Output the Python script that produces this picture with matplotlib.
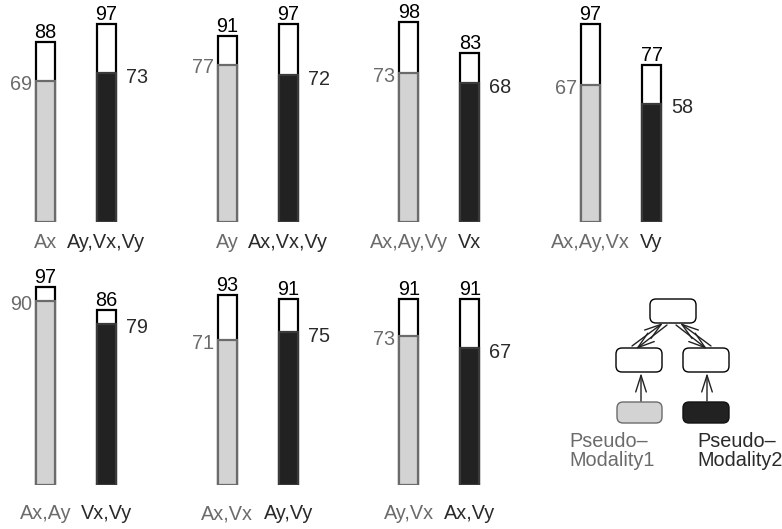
import matplotlib
matplotlib.use("Agg")
import matplotlib.pyplot as plt
from matplotlib.patches import FancyBboxPatch

plt.rcParams["font.family"] = ["Liberation Sans", "DejaVu Sans"]

# pseudo-modality 1 (gray) and 2 (black): inner score / outer score per split
inner_a = [69, 77, 73, 67, 90, 71, 73]
total_a = [88, 91, 98, 97, 97, 93, 91]
inner_b = [73, 72, 68, 58, 79, 75, 67]
total_b = [97, 97, 83, 77, 86, 91, 91]
labels_a = ["Ax", "Ay", "Ax,Ay,Vy", "Ax,Ay,Vx", "Ax,Ay", "Ax,Vx", "Ay,Vx"]
labels_b = ["Ay,Vx,Vy", "Ax,Vx,Vy", "Vx", "Vy", "Vx,Vy", "Ay,Vy", "Ax,Vy"]

GRAY_FILL, GRAY_EDGE, GRAY_TEXT = "#d3d3d3", "#6b6b6b", "#6b6b6b"
DARK_FILL, DARK_EDGE, DARK_TEXT = "#222222", "#3a3a3a", "#2a2a2a"
FS = 14.3

W, H = 782, 529
fig = plt.figure(figsize=(W / 100, H / 100), dpi=100)

# pixel-space layer for the little architecture sketch
bg = fig.add_axes([0, 0, 1, 1])
bg.set_xlim(0, W)
bg.set_ylim(H, 0)
bg.axis("off")

bw = 0.31
step_px = 61.0
panel_px = 181.7
base_y = [222, 485]
scale = 2.04  # px per score unit


def draw_panel(k, row, col):
    left = 15 + col * panel_px
    bottom = H - base_y[row]
    ax = fig.add_axes([left / W, bottom / H, 2 * step_px / W, 100 * scale / H])
    ax.set_xlim(-0.5, 1.5)
    ax.set_ylim(0, 100)
    ax.axis("off")

    for x, tot, inn, fill, edge in [(0, total_a[k], inner_a[k], GRAY_FILL, GRAY_EDGE),
                                    (1, total_b[k], inner_b[k], DARK_FILL, DARK_EDGE)]:
        ax.bar(x, tot, bw, color="white", edgecolor="black", linewidth=1.6, zorder=2)
        ax.bar(x, inn, bw, color=fill, edgecolor=edge, linewidth=1.6, zorder=3)
        ax.annotate(f"{tot}", (x, tot), xytext=(0, 4), textcoords="offset pixels",
                    ha="center", va="baseline", fontsize=FS, color="black")

    ax.annotate(f"{inner_a[k]}", (-bw / 2, inner_a[k]), xytext=(-4, -3),
                textcoords="offset pixels", ha="right", va="center",
                fontsize=FS, color=GRAY_TEXT)
    ax.annotate(f"{inner_b[k]}", (1 + bw / 2, inner_b[k]), xytext=(10, -4),
                textcoords="offset pixels", ha="left", va="center",
                fontsize=FS, color=DARK_TEXT)

    off = -11 if row == 0 else -19
    ax.annotate(labels_a[k], (0, 0), xytext=(0, off), textcoords="offset pixels",
                ha="center", va="top", fontsize=FS, color=GRAY_TEXT)
    ax.annotate(labels_b[k], (1, 0), xytext=(0, off), textcoords="offset pixels",
                ha="center", va="top", fontsize=FS, color=DARK_TEXT)


for k in range(len(inner_a)):
    draw_panel(k, k // 4, k % 4)


def box(x0, y0, x1, y1, fc="white", ec="black"):
    p = FancyBboxPatch((x0, y0), x1 - x0, y1 - y0,
                       boxstyle="round,pad=0,rounding_size=6",
                       fc=fc, ec=ec, lw=1.0)
    bg.add_patch(p)


def arrow(x0, y0, x1, y1):
    bg.annotate("", xy=(x1, y1), xytext=(x0, y0),
                arrowprops=dict(arrowstyle="->,head_length=1.2,head_width=0.38",
                                mutation_scale=10, lw=1.0, color="#222222",
                                shrinkA=0, shrinkB=0))


box(650, 299, 696, 323)
box(616, 348, 662, 372)
box(683, 348, 729, 372)
box(617, 402, 662, 423, fc=GRAY_FILL, ec=GRAY_EDGE)
box(683, 402, 729, 423, fc=DARK_FILL, ec="#111111")

# two-way links between the encoders and the shared head
arrow(632, 346, 663, 323)
arrow(667, 325, 636, 349)
arrow(711, 346, 680, 323)
arrow(676, 325, 707, 349)
arrow(641, 401, 641, 373)
arrow(707, 401, 707, 373)

bg.text(569, 432, "Pseudo\u2013\nModality1", ha="left", va="top",
        fontsize=FS, color=GRAY_TEXT, linespacing=1.0)
bg.text(697, 432, "Pseudo\u2013\nModality2", ha="left", va="top",
        fontsize=FS, color=DARK_TEXT, linespacing=1.0)

fig.savefig("out.png", dpi=100)
